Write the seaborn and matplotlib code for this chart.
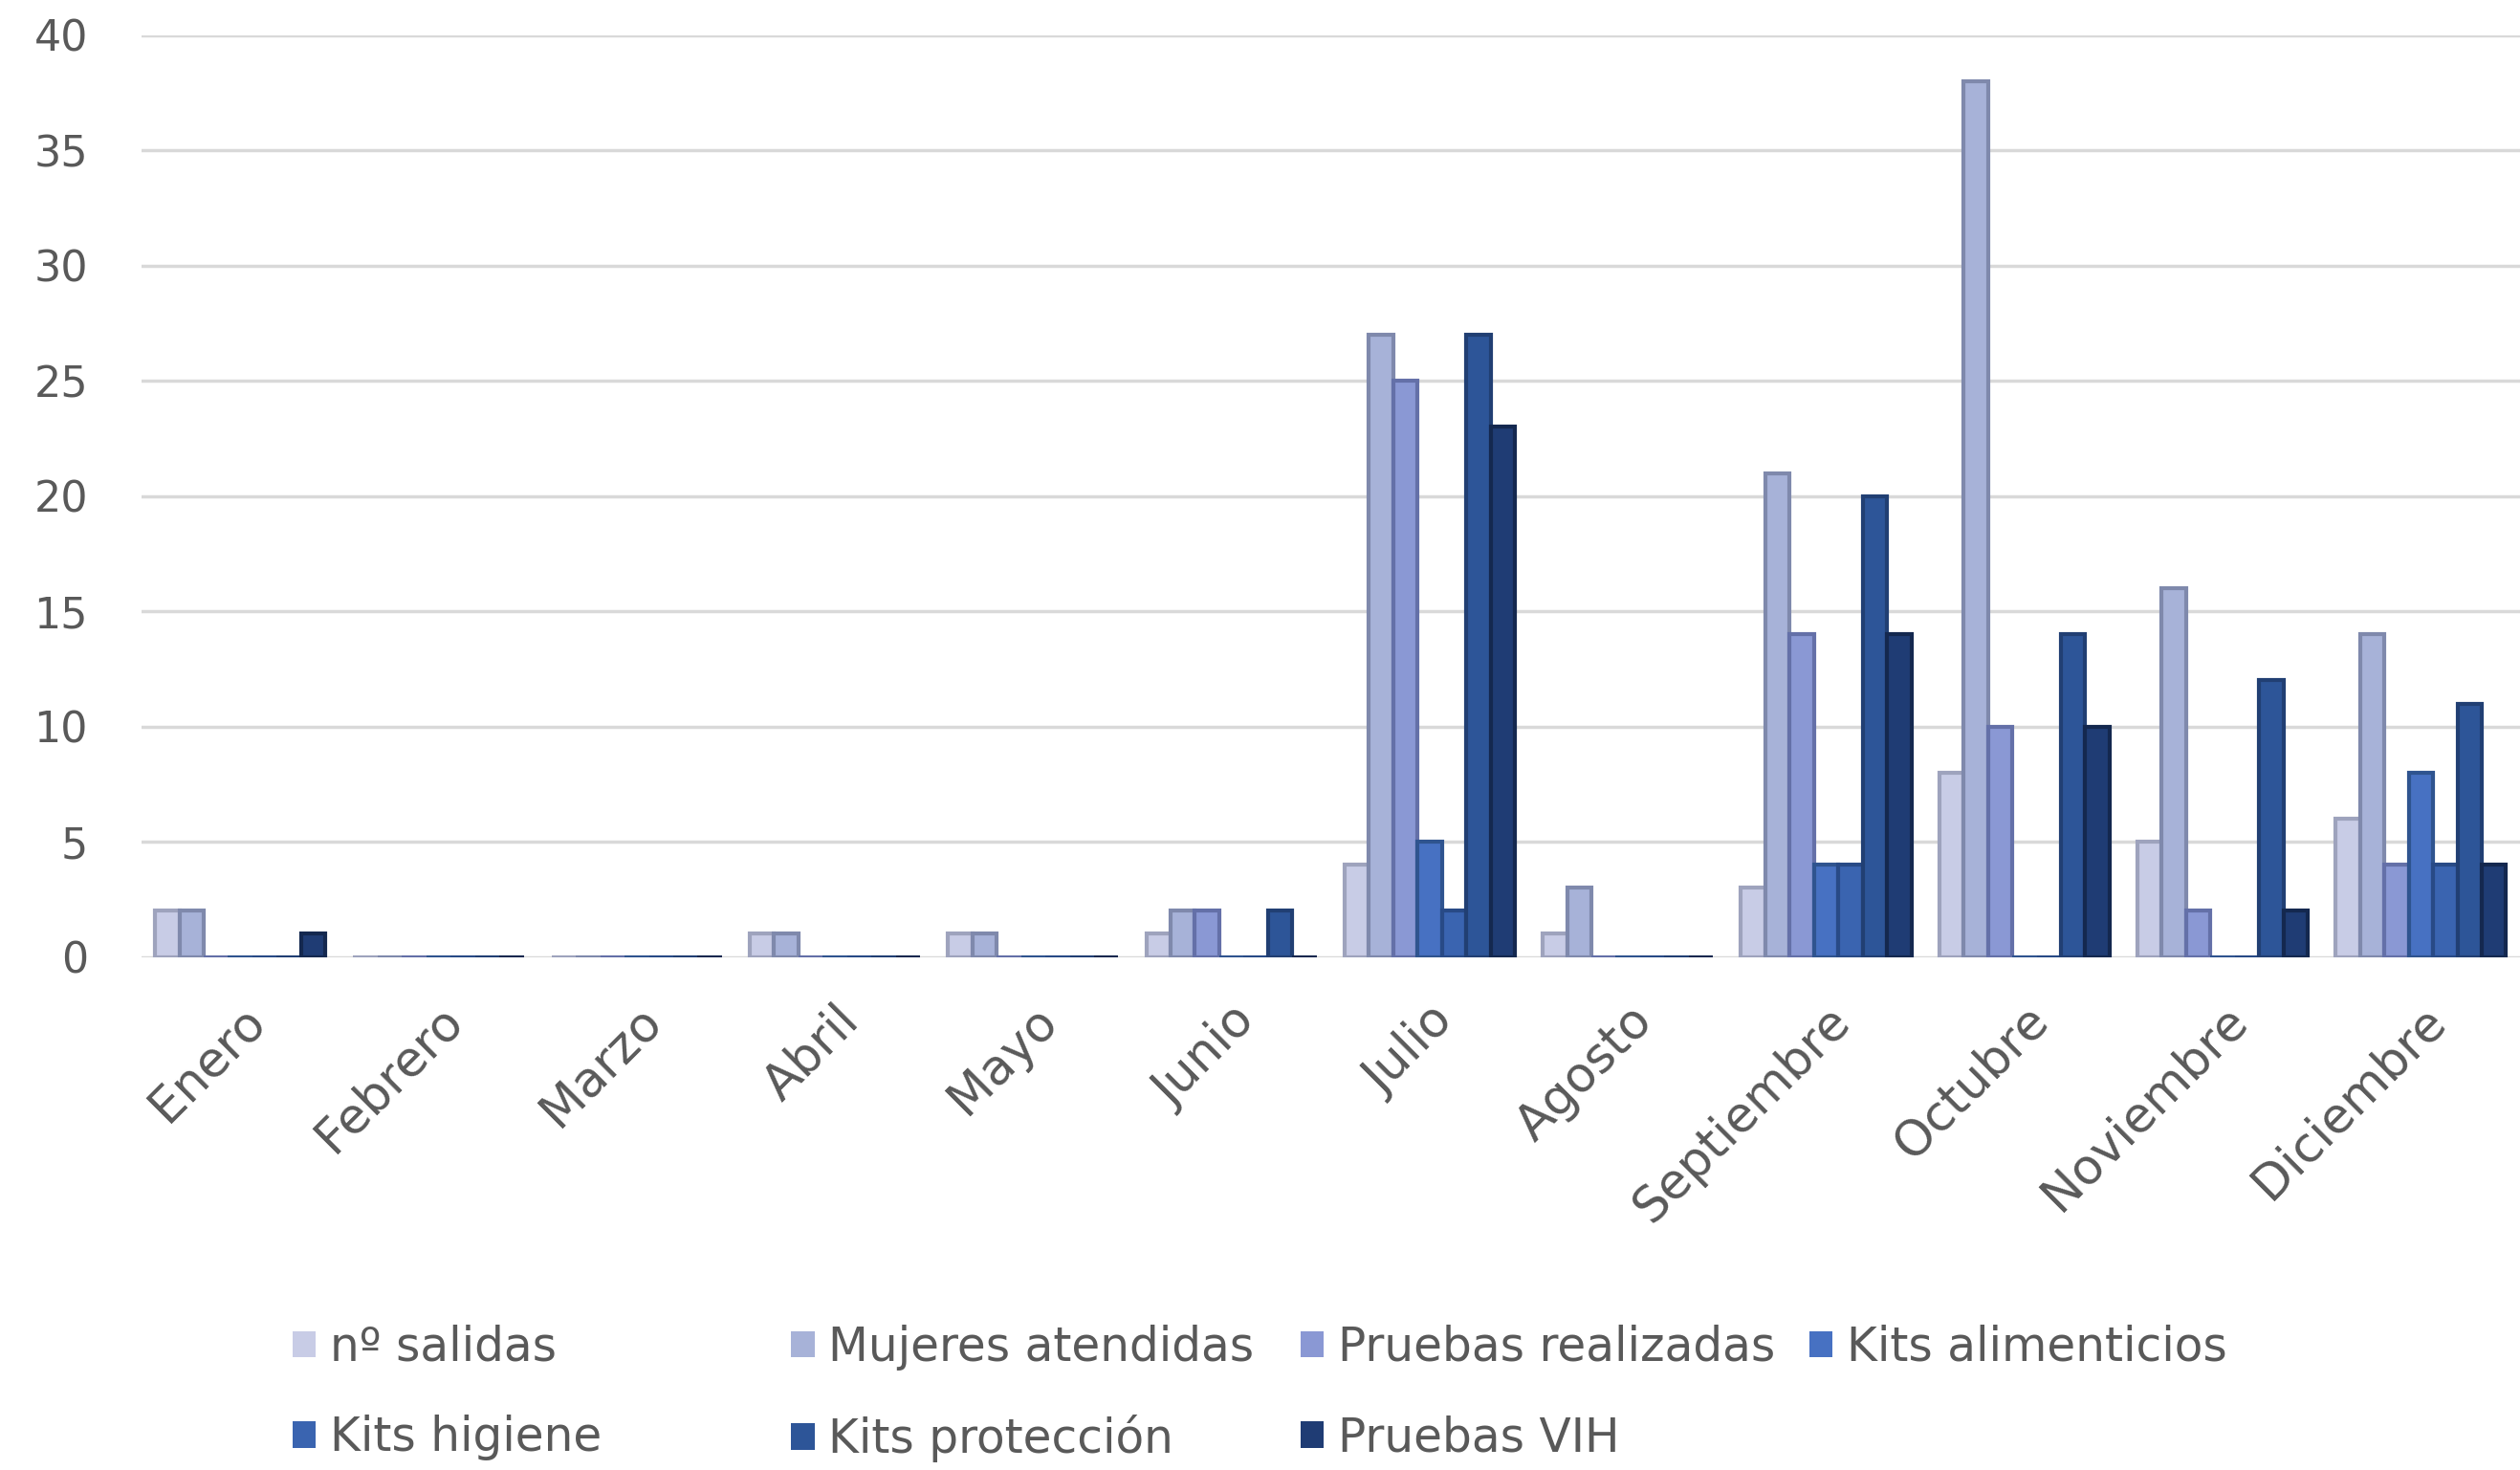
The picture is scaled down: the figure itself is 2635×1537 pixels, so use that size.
import numpy as np
import pandas as pd
import seaborn as sns
import matplotlib.pyplot as plt

# ------------------------------- data ------------------------------- #
months = ['Enero', 'Febrero', 'Marzo', 'Abril', 'Mayo', 'Junio', 'Julio',
          'Agosto', 'Septiembre', 'Octubre', 'Noviembre', 'Diciembre']

series_names = ['nº salidas', 'Mujeres atendidas', 'Pruebas realizadas',
                'Kits alimenticios', 'Kits higiene', 'Kits protección', 'Pruebas VIH']

salidas = [2, 0, 0, 1, 1, 1, 4, 1, 3, 8, 5, 6]
mujeres = [2, 0, 0, 1, 1, 2, 27, 3, 21, 38, 16, 14]
pruebas = [0, 0, 0, 0, 0, 2, 25, 0, 14, 10, 2, 4]
kits_alim = [0, 0, 0, 0, 0, 0, 5, 0, 4, 0, 0, 8]
kits_hig = [0, 0, 0, 0, 0, 0, 2, 0, 4, 0, 0, 4]
kits_prot = [0, 0, 0, 0, 0, 2, 27, 0, 20, 14, 12, 11]
pruebas_vih = [1, 0, 0, 0, 0, 0, 23, 0, 14, 10, 2, 4]

# ------------------------------ settings ---------------------------- #
color_palette = ['#c8cce6', '#a7b2d8', '#8a98d4', '#4771c2', '#3a64b0', '#2d5598', '#1f3c74']
edge_palette = ['#9ea3bd', '#7f89ac', '#6470a8', '#2f548f', '#284a86', '#213f73', '#14284f']
text_color = '#595959'
grid_color = '#d9d9d9'

plt.rcParams['font.family'] = ['DejaVu Sans']

all_values = [salidas, mujeres, pruebas, kits_alim, kits_hig, kits_prot, pruebas_vih]
df = pd.DataFrame({
    'mes': np.tile(months, len(series_names)),
    'serie': np.repeat(series_names, len(months)),
    'valor': np.concatenate(all_values),
})

fig = plt.figure(figsize=(26.35, 15.37), dpi=100)
ax = fig.add_axes([0.056, 0.349, 0.944, 0.627])

sns.barplot(data=df, x='mes', y='valor', hue='serie', order=months,
            hue_order=series_names, palette=color_palette, width=0.86,
            gap=0, saturation=1, ax=ax, errorbar=None, zorder=3)

# darker edges per series (zero values show as thin base line)
for cont, ec in zip(ax.containers, edge_palette):
    for bar in cont:
        bar.set_edgecolor(ec)
        bar.set_linewidth(3)

ax.set_ylim(0, 40)
ax.set_xlim(-0.5, 11.5)
ax.set_yticks(range(0, 41, 5))
ax.set(xlabel='', ylabel='')
ax.grid(axis='y', color=grid_color, linewidth=2.5, zorder=0)
ax.set_axisbelow(True)
for s in ax.spines.values():
    s.set_visible(False)

ax.tick_params(axis='y', length=0, pad=40, labelsize=32, labelcolor=text_color)
ax.tick_params(axis='x', length=0, pad=30, labelsize=37, labelcolor=text_color)
plt.setp(ax.get_xticklabels(), rotation=45, ha='right', va='top', rotation_mode='anchor')

# legend: 4 equal columns, 2 rows, row-major order
handles, labels = ax.get_legend_handles_labels()
ax.get_legend().remove()
col_x = [0.116, 0.314, 0.516, 0.718]
for j, x in enumerate(col_x):
    idx = [i for i in (j, j + 4) if i < len(handles)]
    fig.legend([handles[i] for i in idx], [labels[i] for i in idx],
               loc='upper left', bbox_to_anchor=(x, 0.099), frameon=False,
               fontsize=35, labelcolor=text_color, handlelength=0.5,
               handleheight=0.5, handletextpad=0.3, labelspacing=0.95,
               borderaxespad=0, borderpad=0)

plt.savefig('out.png', dpi=100)
